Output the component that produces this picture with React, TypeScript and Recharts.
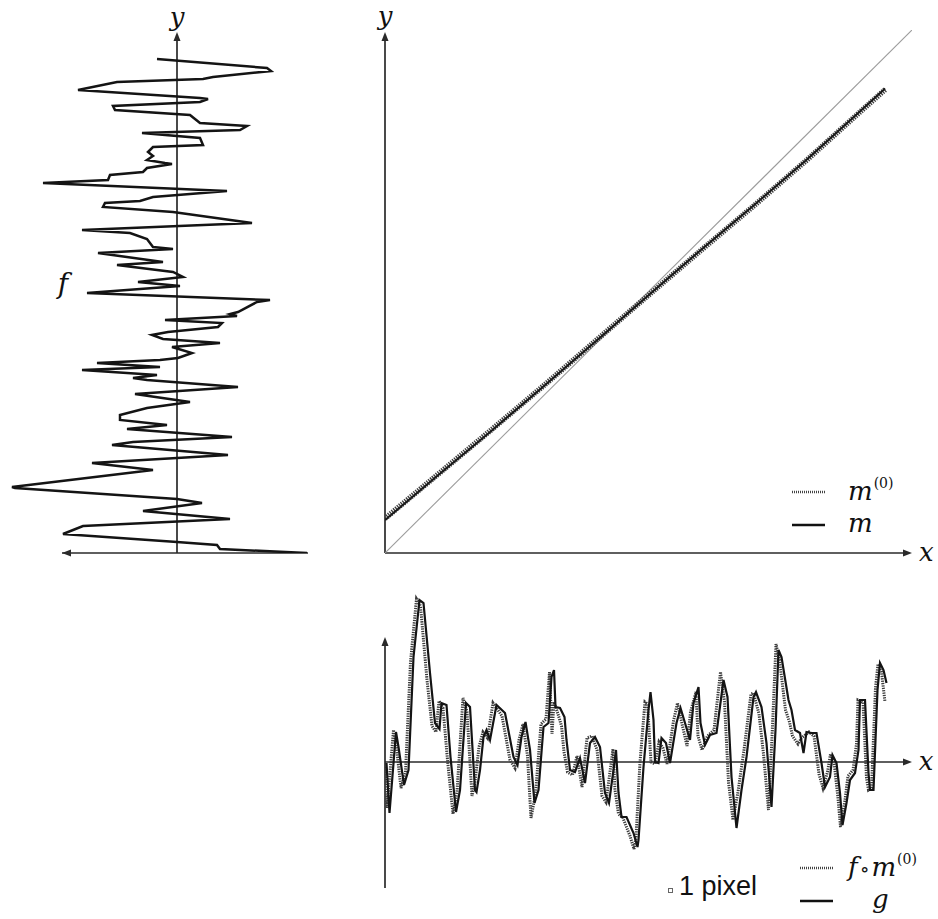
import { ScatterChart, Scatter, XAxis, YAxis, ReferenceLine, ReferenceDot } from "recharts";

// ---- left panel: f traced along the vertical y axis ----
const fDepth = [98.8, 97.0, 96.4, 95.2, 94.8, 94.2, 92.6, 91.0, 90.8, 90.2, 89.4, 88.6, 87.6, 86.0, 85.4, 84.6, 84.0, 83.0, 81.6, 81.2,
  80.2, 79.4, 78.6, 78.0, 77.8, 77.0, 76.2, 75.6, 74.6, 74.0, 72.4, 71.2, 70.4, 70.0, 69.2, 68.2, 66.0, 64.6, 64.0, 62.8,
  61.2, 60.8, 60.0, 58.2, 57.6, 56.2, 55.2, 54.2, 53.4, 52.0, 50.6, 50.2, 48.2, 47.8, 47.4, 46.6, 46.0, 45.2, 44.2, 43.6,
  42.8, 42.0, 41.2, 40.0, 39.0, 38.6, 38.0, 37.2, 36.6, 35.6, 35.0, 34.6, 33.2, 31.8, 30.2, 29.0, 27.6, 26.6, 25.6, 24.8,
  23.2, 22.2, 21.6, 19.6, 18.0, 16.6, 13.2, 13.0, 10.8, 10.0, 8.4, 6.8, 5.4, 3.8, 2.2, 1.6, 0.8, 0.0];
const fValue = [-0.20, 0.90, 0.94, 0.36, 0.26, -0.60, -0.99, 0.23, 0.31, 0.23, -0.64, -0.62, 0.13, 0.23, 0.70, 0.63, -0.35, 0.23, 0.26, -0.24,
  -0.29, -0.24, -0.30, -0.12, -0.05, -0.30, -0.34, -0.67, -0.69, -1.34, 0.50, -0.24, -0.37, -0.72, -0.74, -0.04, 0.75, -0.95, -0.47, -0.30,
  -0.24, -0.04, -0.79, -0.14, -0.60, -0.04, 0.06, -0.39, 0.03, -0.90, 0.93, 0.80, 0.61, 0.53, 0.60, -0.12, 0.45, 0.41, -0.09, -0.25,
  -0.14, 0.43, -0.05, 0.15, 0.01, -0.17, -0.80, -0.17, -0.95, -0.20, -0.44, -0.30, 0.61, -0.42, 0.13, -0.30, -0.57, -0.57, -0.10, -0.50,
  0.55, -0.44, -0.65, 0.51, -0.85, -0.24, -1.65, -1.62, 0.00, 0.25, -0.34, 0.53, -0.94, -1.14, 0.00, 0.40, 0.43, 1.30];

// ---- main panel: warps ----
const mX = [0, 0.1, 0.2, 0.3, 0.4, 0.5, 0.6, 0.7, 0.8, 0.9, 0.949];
const mY = [0.063, 0.148, 0.232, 0.318, 0.405, 0.493, 0.580, 0.665, 0.752, 0.843, 0.888];
const m0Y = [0.066, 0.150, 0.234, 0.319, 0.406, 0.493, 0.579, 0.664, 0.751, 0.842, 0.886];
const identityX = [0, 1];

// ---- bottom panel: g and f o m(0) ----
const gX = [0.3, 0.9, 2.2, 2.7, 3.8, 4.7, 5.7, 6.9, 7.7, 9.0, 10.0, 10.9, 11.3, 12.3, 13.1, 14.2, 15.0, 16.2, 17.0, 18.0,
  18.3, 19.0, 19.7, 20.3, 21.0, 22.3, 24.0, 25.7, 26.5, 27.3, 28.1, 29.0, 29.9, 30.7, 31.7, 32.7, 33.3, 33.8, 34.1, 35.0,
  35.9, 36.3, 37.0, 38.0, 39.0, 40.0, 41.0, 42.0, 43.0, 44.0, 44.8, 45.7, 46.2, 46.7, 47.3, 48.3, 49.7, 50.5, 50.7, 51.7,
  52.7, 53.1, 53.7, 54.0, 54.7, 55.3, 56.2, 57.0, 58.3, 59.1, 60.0, 61.0, 61.7, 62.7, 63.1, 64.0, 65.0, 66.3, 67.7, 68.5,
  69.3, 70.3, 71.3, 72.3, 73.7, 74.2, 75.3, 76.3, 77.3, 78.1, 78.7, 79.3, 80.7, 81.3, 82.0, 83.0, 83.7, 84.3, 85.3, 86.3,
  87.3, 88.0, 89.0, 89.5, 90.3, 91.0, 91.5, 92.3, 93.0, 94.0, 94.7, 95.0, 96.0, 96.7, 97.0, 97.7, 98.5, 99.0, 99.7, 100.3];
const gV = [-0.1, -5.1, 3.0, 1.5, -2.3, -0.8, 10.5, 16.2, 15.9, 8.9, 3.9, 3.3, 5.9, 5.7, 0.5, -5.0, -2.8, 5.9, 5.5, -2.8,
  -3.0, -0.8, 2.5, 3.2, 2.2, 5.7, 4.9, 0.5, -0.3, 2.5, 4.0, 1.2, -4.1, -2.8, 3.5, 3.9, 8.5, 9.2, 5.5, 5.4,
  4.5, 2.2, -0.8, -1.0, 0.4, -2.1, 1.9, 2.5, 1.5, -3.1, -4.1, -0.8, 1.2, -3.1, -5.5, -5.5, -7.1, -8.5, -7.8, -0.5,
  5.2, 7.0, 4.2, 0.0, -0.1, 2.4, 1.9, -0.1, 3.9, 5.4, 3.9, 2.2, 5.9, 7.5, 3.9, 1.7, 2.7, 2.9, 8.2, 6.5,
  -1.5, -6.6, -2.8, 0.5, 6.5, 7.0, 5.5, 1.9, -4.5, 3.2, 11.2, 10.5, 6.2, 5.2, 3.2, 2.9, 0.9, 3.0, 2.9, 2.9,
  -0.1, -2.5, -1.5, 0.7, -0.1, -3.1, -6.3, -4.1, -1.8, -1.1, 1.2, 6.2, 6.2, -1.1, -2.8, -2.8, 7.2, 9.9, 9.2, 7.9];
const fmX = [0.0, 0.4, 1.7, 2.3, 3.2, 4.1, 5.1, 6.3, 7.1, 8.4, 9.4, 10.2, 10.8, 11.6, 12.5, 13.6, 14.4, 15.6, 16.4, 17.4,
  18.0, 18.8, 19.6, 20.5, 21.6, 23.4, 25.0, 26.0, 26.8, 27.6, 28.5, 29.2, 30.1, 31.2, 32.2, 32.9, 33.4, 33.8, 34.6, 35.3,
  35.8, 36.5, 37.5, 38.4, 39.4, 40.4, 41.4, 42.4, 43.4, 44.2, 45.1, 45.6, 46.0, 46.7, 47.6, 49.0, 49.8, 50.2, 51.0, 52.0,
  52.5, 53.2, 54.0, 54.8, 55.6, 56.4, 57.7, 58.5, 59.5, 60.4, 61.1, 62.2, 62.6, 63.4, 64.5, 65.8, 67.1, 67.9, 68.7, 69.6,
  70.6, 71.8, 73.2, 73.7, 74.8, 75.7, 76.7, 77.5, 78.2, 78.9, 80.1, 80.9, 81.5, 82.6, 83.3, 84.8, 85.8, 86.8, 87.6, 88.5,
  89.1, 89.8, 90.6, 91.1, 92.0, 92.6, 93.6, 94.3, 94.6, 95.6, 96.3, 96.7, 97.3, 98.1, 98.6, 99.3, 100.0];
const fmV = [-0.5, -4.6, 3.2, 1.4, -2.6, -1.0, 10.0, 16.3, 15.6, 8.2, 3.6, 3.0, 6.1, 5.4, 0.2, -5.2, -3.0, 6.4, 5.0, -3.4,
  -2.0, 1.5, 3.0, 2.4, 5.9, 4.6, 0.2, -0.6, 2.2, 3.8, 0.6, -5.6, -3.2, 3.8, 4.3, 9.0, 2.8, 6.0, 4.8, 3.6,
  1.0, -1.0, -1.3, 0.6, -2.5, 2.4, 2.6, 1.2, -3.4, -4.0, -0.6, 1.3, -2.8, -5.2, -5.6, -7.4, -8.7, -7.6, 0.0, 6.0,
  5.8, 0.0, -0.2, 2.0, 1.4, -0.2, 4.1, 5.9, 3.6, 1.6, 5.0, 7.0, 2.6, 1.2, 2.6, 3.2, 9.0, 6.0, -2.0, -5.8,
  -3.0, 1.2, 6.8, 6.9, 4.8, 0.8, -4.8, 3.6, 11.8, 10.2, 5.2, 4.0, 2.6, 1.8, 2.4, 3.0, 2.6, -1.2, -2.6, -1.0,
  0.8, 0.0, -3.6, -6.5, -3.8, -1.4, -0.8, 1.8, 6.2, 6.0, -1.6, -2.8, -2.6, 7.4, 9.8, 9.0, 6.0];

const fTrace = fDepth.map((t, i) => ({ f: fValue[i], t }));
const mData = mX.map((x, i) => ({ x, y: mY[i] }));
const m0Data = mX.map((x, i) => ({ x, y: m0Y[i] }));
const identity = identityX.map((x) => ({ x, y: x }));
const gData = gX.map((x, i) => ({ x, v: gV[i] }));
const fmData = fmX.map((x, i) => ({ x, v: fmV[i] }));

const AXIS = "#2a2a2a";
const SERIF = "'DejaVu Serif', 'Liberation Serif', 'Times New Roman', serif";
const SANS = "'Liberation Sans', Arial, sans-serif";

const noDot = () => <g />;

const arrow = (dir: string) => (p: any) => {
  const { cx, cy } = p;
  const L = 9, W = 3.5;
  let pts = "";
  if (dir === "up") pts = `${cx},${cy} ${cx - W},${cy + L} ${cx + W},${cy + L}`;
  if (dir === "right") pts = `${cx},${cy} ${cx - L},${cy - W} ${cx - L},${cy + W}`;
  if (dir === "left") pts = `${cx},${cy} ${cx + L},${cy - W} ${cx + L},${cy + W}`;
  return <polygon points={pts} fill={AXIS} />;
};

const mathText = (s: string, size = 26) => (p: any) => (
  <text x={p.cx} y={p.cy} textAnchor="middle" fontFamily={SERIF} fontStyle="italic" fontSize={size} fill="#111">
    {s}
  </text>
);

function Sample({ dotted }: { dotted?: boolean }) {
  return (
    <svg width={33} height={6} style={{ display: "block" }}>
      <line x1={0} y1={3} x2={33} y2={3} stroke={dotted ? "#444" : "#111"}
        strokeWidth={2.4} strokeDasharray={dotted ? "1 1" : undefined} />
    </svg>
  );
}

function LegendRow({ left, cy, dotted, textLeft, children }: any) {
  return (
    <>
      <div style={{ position: "absolute", left, top: cy - 3 }}><Sample dotted={dotted} /></div>
      <div style={{ position: "absolute", left: textLeft, top: cy - 14, height: 24, lineHeight: "24px",
        fontFamily: SERIF, fontStyle: "italic", fontSize: 26, color: "#111", whiteSpace: "nowrap" }}>
        {children}
      </div>
    </>
  );
}

const sup = { fontSize: 14, fontStyle: "normal", verticalAlign: 12, marginLeft: 1, lineHeight: "10px" } as const;

export default function App() {
  return (
    <div style={{ position: "absolute", left: 0, top: 0, width: 938, height: 919, background: "#fff", overflow: "hidden" }}>
      {/* left: f */}
      <div style={{ position: "absolute", left: 0, top: 0 }}>
        <ScatterChart width={320} height={570} margin={{ top: 33, right: 8, bottom: 17, left: 7 }}>
          <XAxis type="number" dataKey="f" domain={[-1.7, 1.35]} allowDataOverflow hide />
          <YAxis type="number" dataKey="t" domain={[0, 104]} allowDataOverflow hide width={0} />
          <ReferenceLine segment={[{ x: -1.15, y: 0 }, { x: 1.31, y: 0 }]} stroke={AXIS} strokeWidth={1.7} ifOverflow="visible" />
          <ReferenceLine segment={[{ x: 0, y: 0 }, { x: 0, y: 103 }]} stroke={AXIS} strokeWidth={1.7} ifOverflow="visible" />
          <ReferenceDot x={-1.15} y={0} ifOverflow="visible" shape={arrow("left")} />
          <ReferenceDot x={0} y={104.2} ifOverflow="visible" shape={arrow("up")} />
          <ReferenceDot x={0} y={105.4} ifOverflow="visible" shape={mathText("y")} />
          <ReferenceDot x={-1.14} y={52} ifOverflow="visible" shape={mathText("f", 28)} />
          <Scatter data={fTrace} shape={noDot} line={{ stroke: "#141414", strokeWidth: 2.5 }} isAnimationActive={false} />
        </ScatterChart>
      </div>

      {/* main: m and m(0) */}
      <div style={{ position: "absolute", left: 370, top: 0 }}>
        <ScatterChart width={568} height={580} margin={{ top: 30, right: 26, bottom: 27, left: 15 }}>
          <XAxis type="number" dataKey="x" domain={[0, 1]} allowDataOverflow hide />
          <YAxis type="number" dataKey="y" domain={[0, 1]} allowDataOverflow hide width={0} />
          <ReferenceLine segment={[{ x: 0, y: 0 }, { x: 0.985, y: 0 }]} stroke={AXIS} strokeWidth={1.7} ifOverflow="visible" />
          <ReferenceLine segment={[{ x: 0, y: 0 }, { x: 0, y: 0.98 }]} stroke={AXIS} strokeWidth={1.7} ifOverflow="visible" />
          <ReferenceDot x={1.0} y={0} ifOverflow="visible" shape={arrow("right")} />
          <ReferenceDot x={0} y={0.996} ifOverflow="visible" shape={arrow("up")} />
          <ReferenceDot x={0} y={1.009} ifOverflow="visible" shape={mathText("y")} />
          <ReferenceDot x={1.027} y={-0.015} ifOverflow="visible" shape={mathText("x")} />
          <Scatter data={identity} shape={noDot} line={{ stroke: "#9c9c9c", strokeWidth: 1.1 }} isAnimationActive={false} />
          <Scatter data={m0Data} shape={noDot} line={{ stroke: "#3a3a3a", strokeWidth: 5.5, strokeDasharray: "1.3 1.1" }} isAnimationActive={false} />
          <Scatter data={mData} shape={noDot} line={{ stroke: "#1a1a1a", strokeWidth: 2 }} isAnimationActive={false} />
        </ScatterChart>
      </div>

      {/* bottom: g and f o m(0) */}
      <div style={{ position: "absolute", left: 370, top: 580 }}>
        <ScatterChart width={568} height={339} margin={{ top: 14, right: 26, bottom: 31, left: 15 }}>
          <XAxis type="number" dataKey="x" domain={[0, 105.4]} allowDataOverflow hide />
          <YAxis type="number" dataKey="v" domain={[-12.6, 16.8]} allowDataOverflow hide width={0} />
          <ReferenceLine segment={[{ x: 0, y: 0 }, { x: 104, y: 0 }]} stroke={AXIS} strokeWidth={1.7} ifOverflow="visible" />
          <ReferenceLine segment={[{ x: 0, y: -12.6 }, { x: 0, y: 12 }]} stroke={AXIS} strokeWidth={1.7} ifOverflow="visible" />
          <ReferenceDot x={105.4} y={0} ifOverflow="visible" shape={arrow("right")} />
          <ReferenceDot x={0} y={12.5} ifOverflow="visible" shape={arrow("up")} />
          <ReferenceDot x={108.2} y={-0.8} ifOverflow="visible" shape={mathText("x")} />
          <Scatter data={fmData} shape={noDot} line={{ stroke: "#3a3a3a", strokeWidth: 3, strokeDasharray: "1.3 1.1" }} isAnimationActive={false} />
          <Scatter data={gData} shape={noDot} line={{ stroke: "#141414", strokeWidth: 2.2 }} isAnimationActive={false} />
        </ScatterChart>
      </div>

      {/* legends */}
      <LegendRow left={792} cy={492} dotted textLeft={848}>
        m<span style={sup}>(0)</span>
      </LegendRow>
      <LegendRow left={792} cy={525} textLeft={848}>m</LegendRow>

      <div style={{ position: "absolute", left: 668, top: 871, height: 30, lineHeight: "30px", fontFamily: SANS, fontSize: 27, color: "#111", whiteSpace: "nowrap" }}>
        <span style={{ display: "inline-block", width: 3, height: 3, border: "1px solid #666", marginRight: 6, verticalAlign: 2 }} />
        1 pixel
      </div>
      <LegendRow left={800} cy={868} dotted textLeft={848}>
        f<span style={{ fontStyle: "normal", fontSize: 20, margin: "0 2px" }}>∘</span>m<span style={sup}>(0)</span>
      </LegendRow>
      <LegendRow left={800} cy={901} textLeft={872}>g</LegendRow>
    </div>
  );
}
